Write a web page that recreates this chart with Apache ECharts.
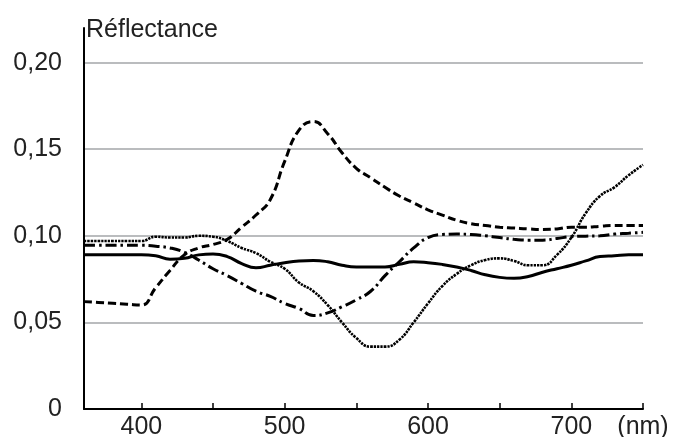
<!DOCTYPE html>
<html>
<head>
<meta charset="utf-8">
<script src="https://cdn.jsdelivr.net/npm/echarts@6/dist/echarts.min.js"></script>
<style>html,body{margin:0;padding:0;background:#fff;}#c{width:673px;height:437px;}</style>
</head>
<body>
<div id="c"></div>
<script>
const wavelengths = [360,370,380,390,400,410,420,430,440,450,460,470,480,490,500,510,520,530,540,550,560,570,580,590,600,610,620,630,640,650,660,670,680,690,700,710,720,730,740,750];
const dashedSeries = [0.062,0.0615,0.061,0.0605,0.060,0.070,0.080,0.089,0.093,0.095,0.098,0.105,0.112,0.121,0.143,0.161,0.166,0.159,0.148,0.139,0.1335,0.128,0.123,0.119,0.115,0.112,0.109,0.107,0.106,0.105,0.1045,0.104,0.1037,0.104,0.105,0.105,0.1055,0.106,0.106,0.106];
const dottedSeries = [0.097,0.097,0.097,0.097,0.097,0.0995,0.099,0.099,0.100,0.0995,0.097,0.093,0.090,0.085,0.081,0.073,0.068,0.060,0.050,0.041,0.036,0.036,0.040,0.050,0.061,0.071,0.078,0.083,0.086,0.087,0.0855,0.083,0.083,0.089,0.099,0.113,0.123,0.128,0.135,0.141];
const solidSeries = [0.089,0.089,0.089,0.089,0.089,0.0885,0.0865,0.087,0.089,0.0895,0.088,0.084,0.0815,0.083,0.0845,0.0855,0.0858,0.085,0.083,0.082,0.082,0.082,0.0835,0.085,0.0845,0.0835,0.082,0.080,0.0775,0.076,0.0755,0.0765,0.079,0.081,0.083,0.0855,0.088,0.0885,0.089,0.089];
const dashDotSeries = [0.0945,0.0945,0.0945,0.0945,0.0945,0.094,0.093,0.0905,0.086,0.081,0.077,0.0725,0.068,0.065,0.061,0.058,0.054,0.0555,0.059,0.063,0.068,0.077,0.085,0.093,0.099,0.1008,0.101,0.1008,0.100,0.099,0.098,0.0975,0.0975,0.0985,0.0995,0.0998,0.100,0.101,0.1015,0.102];
const yTicks = [0, 0.05, 0.10, 0.15, 0.20];
const yTitle = 'Réflectance';
const xUnit = '(nm)';

const FONT = 'Liberation Sans, Arial, sans-serif';
const chart = echarts.init(document.getElementById('c'), null, {renderer:'canvas'});
function mk(name, data, type, width) {
  return {name, type:'line', data, showSymbol:false, smooth:0.5, animation:false,
    lineStyle:{color:'#000', width, type, cap:'butt'}};
}
chart.setOption({
  animation:false,
  backgroundColor:'#fff',
  grid:{left:84, right:30, top:28, bottom:28, containLabel:false, outerBoundsMode:'none'},
  xAxis:{type:'category', data:wavelengths, boundaryGap:false,
    axisLine:{lineStyle:{color:'#000', width:2}},
    axisTick:{show:true, inside:true, length:6, lineStyle:{color:'#000', width:1.5},
      interval:(i,v)=>Number(v)%50===0},
    axisLabel:{interval:(i,v)=>Number(v)%100===0||Number(v)===750, margin:6,
      fontFamily:FONT, fontSize:25, color:'#222',
      formatter:v=>Number(v)===750?xUnit:String(v)},
    splitLine:{show:false}},
  yAxis:{type:'value', min:0, max:0.22, interval:0.05,
    name:yTitle, nameLocation:'end', nameGap:-2,
    nameTextStyle:{align:'left', verticalAlign:'middle', fontFamily:FONT, fontSize:25, color:'#222', padding:[0,0,0,2]},
    axisLine:{show:true, lineStyle:{color:'#000', width:2}},
    axisTick:{show:false},
    axisLabel:{margin:22, fontFamily:FONT, fontSize:25, color:'#222', showMaxLabel:false,
      formatter:v=>{const t=yTicks.find(x=>Math.abs(x-v)<1e-9); if(t===undefined)return ''; return t===0?'0':t.toFixed(2).replace('.',',');}},
    splitLine:{show:true, showMinLine:false, showMaxLine:false, lineStyle:{color:'#a3a6a9', width:1.5}}},
  series:[
    mk('dashed', dashedSeries, [8,4], 3),
    mk('dotted', dottedSeries, [2.4,1], 2.6),
    mk('solid', solidSeries, 'solid', 3),
    mk('dashdot', dashDotSeries, [11,4,2.5,4], 3)
  ]
});
</script>
</body>
</html>
